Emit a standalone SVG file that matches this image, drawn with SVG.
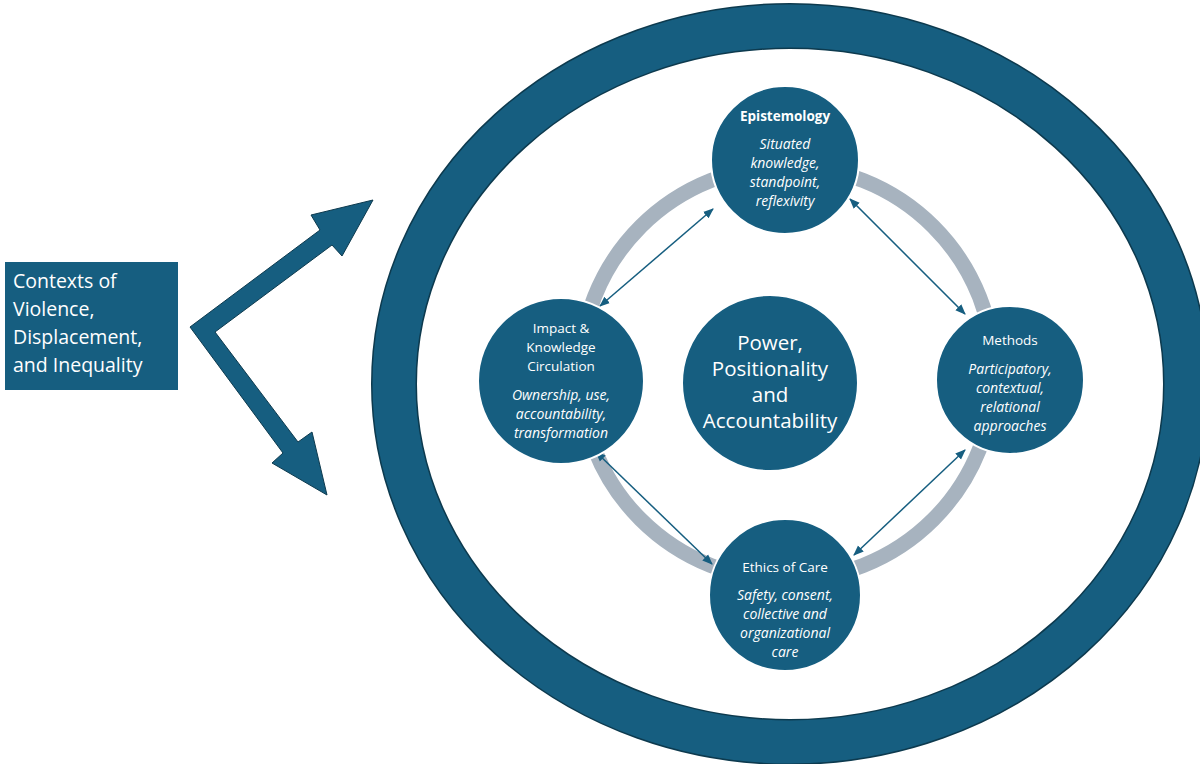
<svg xmlns="http://www.w3.org/2000/svg" width="1200" height="764" viewBox="0 0 1200 764">
<defs>
<style>
.n{fill:#165e80;stroke:#ffffff;stroke-width:2}
.t{font-family:"Open Sans","Liberation Sans",sans-serif;fill:#fff;text-anchor:middle}
.i{font-style:italic}
.c line{stroke:#165e80;stroke-width:1.5;marker-start:url(#a);marker-end:url(#a)}
</style>
<marker id="a" viewBox="0 0 10 10" refX="9" refY="5" markerWidth="7" markerHeight="7" orient="auto-start-reverse"><path d="M0,1 L10,5 L0,9 Z" fill="#165e80"/></marker>
</defs>
<rect width="1200" height="764" fill="#fff"/>
<ellipse cx="790" cy="384" rx="396" ry="358" fill="none" stroke="#0d3a4e" stroke-width="46"/>
<ellipse cx="790" cy="384" rx="396" ry="358" fill="none" stroke="#165e80" stroke-width="43"/>
<circle cx="787" cy="373" r="207" fill="none" stroke="#a7b3bf" stroke-width="15"/>
<g id="context">
<rect x="5" y="262" width="173" height="128" fill="#165e80"/>
<text class="t" font-size="19.5" style="text-anchor:start"><tspan x="13" y="288">Contexts of</tspan><tspan x="13" y="316">Violence,</tspan><tspan x="13" y="344">Displacement,</tspan><tspan x="13" y="372">and Inequality</tspan></text>
</g>
<g id="bent-arrow">
<polygon points="190,327 320,230 311,215 373,200 342,256 332,245 215,332 298,442 312,432 327,495 272,463 283,453" fill="#165e80" stroke="#0d3a4e" stroke-width="1"/>
</g>
<g class="c" id="connectors">
<line x1="713" y1="209" x2="600" y2="306"/>
<line x1="850" y1="199" x2="965" y2="314"/>
<line x1="596" y1="452" x2="712" y2="564"/>
<line x1="965" y1="450" x2="854" y2="555"/>
</g>
<g id="center">
<circle class="n" cx="770" cy="383" r="88"/>
<text class="t" font-size="20.5"><tspan x="770" y="350">Power,</tspan><tspan x="770" y="376">Positionality</tspan><tspan x="770" y="402">and</tspan><tspan x="770" y="428">Accountability</tspan></text>
</g>
<g id="epistemology">
<circle class="n" cx="785" cy="160" r="74"/>
<text class="t" font-size="13.5" font-weight="bold" x="785" y="121">Epistemology</text>
<text class="t i" font-size="14"><tspan x="785" y="149">Situated</tspan><tspan x="785" y="168">knowledge,</tspan><tspan x="785" y="187">standpoint,</tspan><tspan x="785" y="206">reflexivity</tspan></text>
</g>
<g id="methods">
<circle class="n" cx="1010" cy="380" r="74"/>
<text class="t" font-size="13.5" x="1010" y="345">Methods</text>
<text class="t i" font-size="14"><tspan x="1010" y="374">Participatory,</tspan><tspan x="1010" y="393">contextual,</tspan><tspan x="1010" y="412">relational</tspan><tspan x="1010" y="431">approaches</tspan></text>
</g>
<g id="impact">
<circle class="n" cx="561" cy="381" r="83"/>
<text class="t" font-size="13.5"><tspan x="561" y="333">Impact &amp;</tspan><tspan x="561" y="352">Knowledge</tspan><tspan x="561" y="371">Circulation</tspan></text>
<text class="t i" font-size="14"><tspan x="561" y="400">Ownership, use,</tspan><tspan x="561" y="419">accountability,</tspan><tspan x="561" y="438">transformation</tspan></text>
</g>
<g id="ethics">
<circle class="n" cx="785" cy="595" r="76"/>
<text class="t" font-size="13.5" x="785" y="572">Ethics of Care</text>
<text class="t i" font-size="14"><tspan x="785" y="600">Safety, consent,</tspan><tspan x="785" y="619">collective and</tspan><tspan x="785" y="638">organizational</tspan><tspan x="785" y="657">care</tspan></text>
</g>
</svg>
